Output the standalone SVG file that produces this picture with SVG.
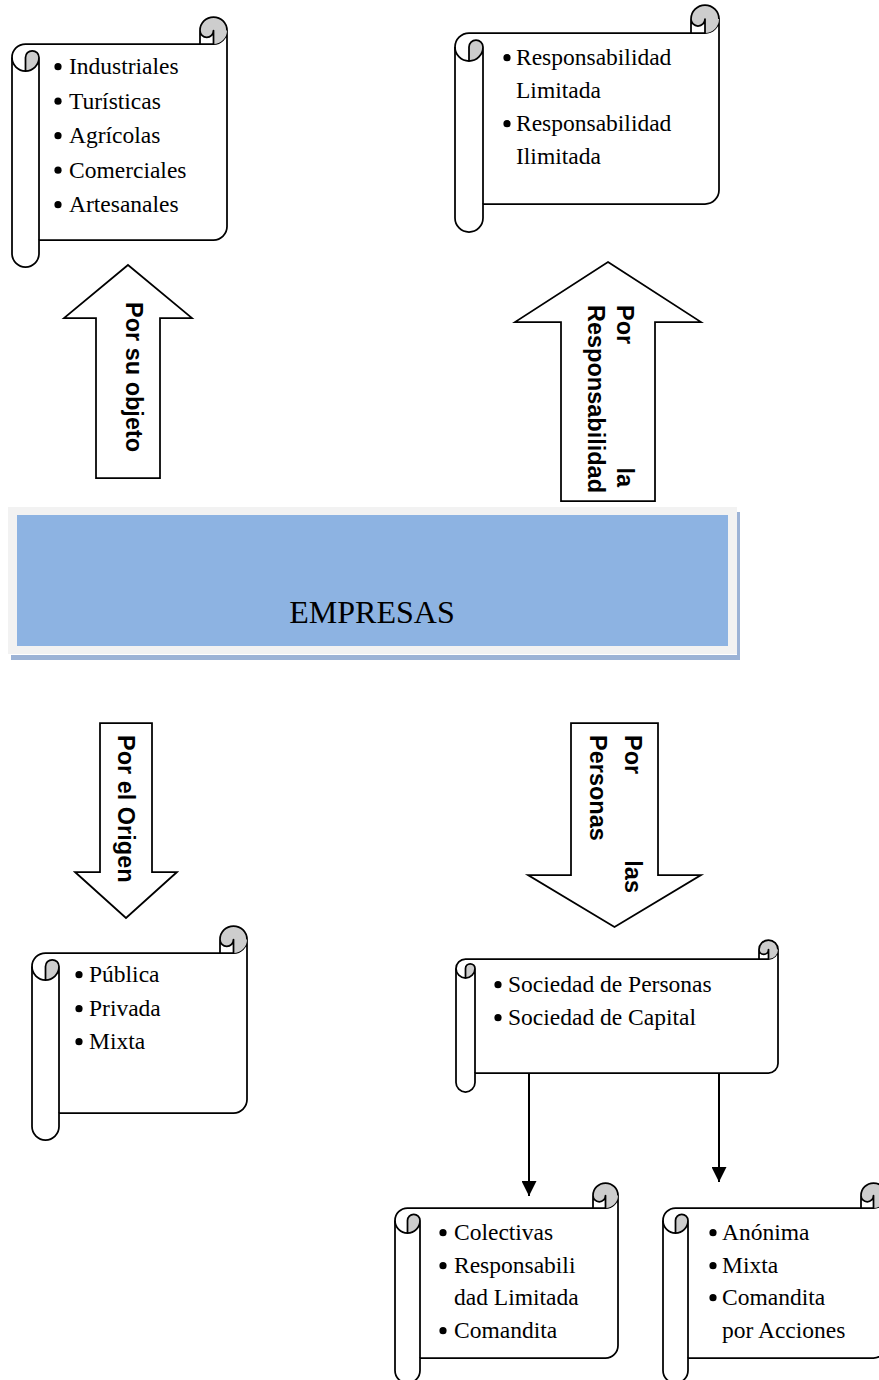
<svg xmlns="http://www.w3.org/2000/svg" xmlns:xlink="http://www.w3.org/1999/xlink" width="879" height="1380" viewBox="0 0 879 1380">
  <style>
    .body { fill: #ffffff; stroke: #000000; stroke-width: 1.75; stroke-linejoin: round; }
    .curl { fill: #cdcdcd; stroke: none; }
    .edge { fill: none; stroke: #000000; stroke-width: 1.75; stroke-linejoin: round; }
    .item { font-family: "Liberation Serif", "Times New Roman", serif; font-size: 23.5px; fill: #000000; }
    .dot { fill: #000000; }
    .block { fill: #ffffff; stroke: #000000; stroke-width: 1.75; stroke-linejoin: miter; }
    .blabel { font-family: "Liberation Sans", Arial, sans-serif; font-weight: bold; font-size: 23.5px; fill: #000000; }
    .title { font-family: "Liberation Serif", "Times New Roman", serif; font-size: 32px; fill: #000000; }
    .link { fill: none; stroke: #000000; stroke-width: 2; }
  </style>
  <defs>
    <marker id="head" markerUnits="userSpaceOnUse" markerWidth="15" markerHeight="15" refX="15" refY="7.5" orient="auto">
      <path d="M0,0 L15,7.5 L0,15 Z" fill="#000000"/>
    </marker>
    <!-- horizontal scroll, 223 x 200, roll size 25 -->
    <g id="scroll-223x200">
      <path class="body" d="M0,37.5 A12.5,12.5 0 0 1 12.5,25 L210.5,25 A12.5,12.5 0 0 0 223,12.5 L223,162.5 A12.5,12.5 0 0 1 210.5,175 L25,175 L25,187.5 A12.5,12.5 0 0 1 0,187.5 Z"/>
      <path class="curl" d="M210.5,25 A12.5,12.5 0 1 0 198,12.5 A6.25,6.25 0 0 0 210.5,12.5 Z M12.5,50 L12.5,37.5 A6.25,6.25 0 0 1 25,37.5 A12.5,12.5 0 0 1 12.5,50 Z"/>
      <path class="edge" d="M198,25 L198,12.5 A12.5,12.5 0 0 1 223,12.5 M210.5,25 L210.5,12.5 A6.25,6.25 0 0 1 198,12.5 M12.5,50 L12.5,37.5 A6.25,6.25 0 0 1 25,37.5 A12.5,12.5 0 0 1 0,37.5 M25,37.5 L25,175"/>
    </g>
  </defs>

  <!-- central block -->
  <g id="empresas">
    <rect x="11" y="512" width="729" height="148" fill="#9cb3d6"/>
    <rect x="8" y="507" width="729" height="148" fill="#ffffff"/>
    <rect x="8" y="507" width="729" height="147" fill="#f2f2f2"/>
    <rect x="17" y="515" width="711" height="131" fill="#8db3e2"/>
    <text class="title" x="372" y="623" text-anchor="middle">EMPRESAS</text>
  </g>

  <!-- block arrows -->
  <g id="arrow-objeto">
    <polygon class="block" points="128,265 192,318 160,318 160,478 96,478 96,318 64,318"/>
    <text class="blabel" transform="translate(126,302) rotate(90)">Por su objeto</text>
  </g>
  <g id="arrow-responsabilidad">
    <polygon class="block" points="608,262 701,322 655,322 655,501 561,501 561,322 515,322"/>
    <text class="blabel" transform="translate(617,305) rotate(90)">Por</text>
    <text class="blabel" transform="translate(617,487) rotate(90)" text-anchor="end">la</text>
    <text class="blabel" transform="translate(588,305) rotate(90)">Responsabilidad</text>
  </g>
  <g id="arrow-origen">
    <polygon class="block" points="100,723 152,723 152,872 177,872 126,918 75,872 100,872"/>
    <text class="blabel" transform="translate(118,735) rotate(90)">Por el Origen</text>
  </g>
  <g id="arrow-personas">
    <polygon class="block" points="571,723 658,723 658,875 701,875 614.5,927 528,875 571,875"/>
    <text class="blabel" transform="translate(625,735) rotate(90)">Por</text>
    <text class="blabel" transform="translate(625,893) rotate(90)" text-anchor="end">las</text>
    <text class="blabel" transform="translate(590,735) rotate(90)">Personas</text>
  </g>

  <!-- scroll: by object -->
  <g id="objeto">
    <g transform="translate(12,17)">
      <path class="body" d="M0,40.5 A13.5,13.5 0 0 1 13.5,27 L201.5,27 A13.5,13.5 0 0 0 215,13.5 L215,209.5 A13.5,13.5 0 0 1 201.5,223 L27,223 L27,236.5 A13.5,13.5 0 0 1 0,236.5 Z"/>
      <path class="curl" d="M201.5,27 A13.5,13.5 0 1 0 188,13.5 A6.75,6.75 0 0 0 201.5,13.5 Z M13.5,54 L13.5,40.5 A6.75,6.75 0 0 1 27,40.5 A13.5,13.5 0 0 1 13.5,54 Z"/>
      <path class="edge" d="M188,27 L188,13.5 A13.5,13.5 0 0 1 215,13.5 M201.5,27 L201.5,13.5 A6.75,6.75 0 0 1 188,13.5 M13.5,54 L13.5,40.5 A6.75,6.75 0 0 1 27,40.5 A13.5,13.5 0 0 1 0,40.5 M27,40.5 L27,223"/>
    </g>
    <circle class="dot" cx="58" cy="66.7" r="3.6"/>
    <circle class="dot" cx="58" cy="101.2" r="3.6"/>
    <circle class="dot" cx="58" cy="135.7" r="3.6"/>
    <circle class="dot" cx="58" cy="170.2" r="3.6"/>
    <circle class="dot" cx="58" cy="204.7" r="3.6"/>
    <text class="item" x="69" y="74">Industriales</text>
    <text class="item" x="69" y="108.5">Turísticas</text>
    <text class="item" x="69" y="143">Agrícolas</text>
    <text class="item" x="69" y="177.5">Comerciales</text>
    <text class="item" x="69" y="212">Artesanales</text>
  </g>

  <!-- scroll: by liability -->
  <g id="responsabilidad">
    <g transform="translate(455,5)">
      <path class="body" d="M0,42 A14,14 0 0 1 14,28 L250,28 A14,14 0 0 0 264,14 L264,185 A14,14 0 0 1 250,199 L28,199 L28,213 A14,14 0 0 1 0,213 Z"/>
      <path class="curl" d="M250,28 A14,14 0 1 0 236,14 A7,7 0 0 0 250,14 Z M14,56 L14,42 A7,7 0 0 1 28,42 A14,14 0 0 1 14,56 Z"/>
      <path class="edge" d="M236,28 L236,14 A14,14 0 0 1 264,14 M250,28 L250,14 A7,7 0 0 1 236,14 M14,56 L14,42 A7,7 0 0 1 28,42 A14,14 0 0 1 0,42 M28,42 L28,199"/>
    </g>
    <circle class="dot" cx="507" cy="57.7" r="3.6"/>
    <circle class="dot" cx="507" cy="123.7" r="3.6"/>
    <text class="item" x="516" y="65">Responsabilidad</text>
    <text class="item" x="516" y="98">Limitada</text>
    <text class="item" x="516" y="131">Responsabilidad</text>
    <text class="item" x="516" y="164">Ilimitada</text>
  </g>

  <!-- scroll: by origin -->
  <g id="origen">
    <g transform="translate(32,926)">
      <path class="body" d="M0,40.5 A13.5,13.5 0 0 1 13.5,27 L201.5,27 A13.5,13.5 0 0 0 215,13.5 L215,173.5 A13.5,13.5 0 0 1 201.5,187 L27,187 L27,200.5 A13.5,13.5 0 0 1 0,200.5 Z"/>
      <path class="curl" d="M201.5,27 A13.5,13.5 0 1 0 188,13.5 A6.75,6.75 0 0 0 201.5,13.5 Z M13.5,54 L13.5,40.5 A6.75,6.75 0 0 1 27,40.5 A13.5,13.5 0 0 1 13.5,54 Z"/>
      <path class="edge" d="M188,27 L188,13.5 A13.5,13.5 0 0 1 215,13.5 M201.5,27 L201.5,13.5 A6.75,6.75 0 0 1 188,13.5 M13.5,54 L13.5,40.5 A6.75,6.75 0 0 1 27,40.5 A13.5,13.5 0 0 1 0,40.5 M27,40.5 L27,187"/>
    </g>
    <circle class="dot" cx="79" cy="974.7" r="3.6"/>
    <circle class="dot" cx="79" cy="1008.7" r="3.6"/>
    <circle class="dot" cx="79" cy="1041.7" r="3.6"/>
    <text class="item" x="89" y="982">Pública</text>
    <text class="item" x="89" y="1016">Privada</text>
    <text class="item" x="89" y="1049">Mixta</text>
  </g>

  <!-- scroll: by partners -->
  <g id="personas">
    <g transform="translate(456,940)">
      <path class="body" d="M0,28.5 A9.5,9.5 0 0 1 9.5,19 L312.5,19 A9.5,9.5 0 0 0 322,9.5 L322,123.5 A9.5,9.5 0 0 1 312.5,133 L19,133 L19,142.5 A9.5,9.5 0 0 1 0,142.5 Z"/>
      <path class="curl" d="M312.5,19 A9.5,9.5 0 1 0 303,9.5 A4.75,4.75 0 0 0 312.5,9.5 Z M9.5,38 L9.5,28.5 A4.75,4.75 0 0 1 19,28.5 A9.5,9.5 0 0 1 9.5,38 Z"/>
      <path class="edge" d="M303,19 L303,9.5 A9.5,9.5 0 0 1 322,9.5 M312.5,19 L312.5,9.5 A4.75,4.75 0 0 1 303,9.5 M9.5,38 L9.5,28.5 A4.75,4.75 0 0 1 19,28.5 A9.5,9.5 0 0 1 0,28.5 M19,28.5 L19,133"/>
    </g>
    <circle class="dot" cx="498" cy="984.7" r="3.6"/>
    <circle class="dot" cx="498" cy="1017.7" r="3.6"/>
    <text class="item" x="508" y="992">Sociedad de Personas</text>
    <text class="item" x="508" y="1025">Sociedad de Capital</text>
  </g>

  <!-- scroll: partnerships -->
  <g id="sociedad-personas">
    <use xlink:href="#scroll-223x200" transform="translate(395,1183)"/>
    <circle class="dot" cx="443" cy="1232.7" r="3.6"/>
    <circle class="dot" cx="443" cy="1265.7" r="3.6"/>
    <circle class="dot" cx="443" cy="1330.7" r="3.6"/>
    <text class="item" x="454" y="1240">Colectivas</text>
    <text class="item" x="454" y="1273">Responsabili</text>
    <text class="item" x="454" y="1305">dad Limitada</text>
    <text class="item" x="454" y="1338">Comandita</text>
  </g>

  <!-- scroll: capital companies -->
  <g id="sociedad-capital">
    <use xlink:href="#scroll-223x200" transform="translate(663,1183)"/>
    <circle class="dot" cx="713" cy="1232.7" r="3.6"/>
    <circle class="dot" cx="713" cy="1265.7" r="3.6"/>
    <circle class="dot" cx="713" cy="1297.7" r="3.6"/>
    <text class="item" x="722" y="1240">Anónima</text>
    <text class="item" x="722" y="1273">Mixta</text>
    <text class="item" x="722" y="1305">Comandita</text>
    <text class="item" x="722" y="1338">por Acciones</text>
  </g>

  <!-- connectors -->
  <g id="connectors">
    <line class="link" x1="529" y1="1074" x2="529" y2="1196" marker-end="url(#head)"/>
    <line class="link" x1="719" y1="1074" x2="719" y2="1182" marker-end="url(#head)"/>
  </g>
</svg>
